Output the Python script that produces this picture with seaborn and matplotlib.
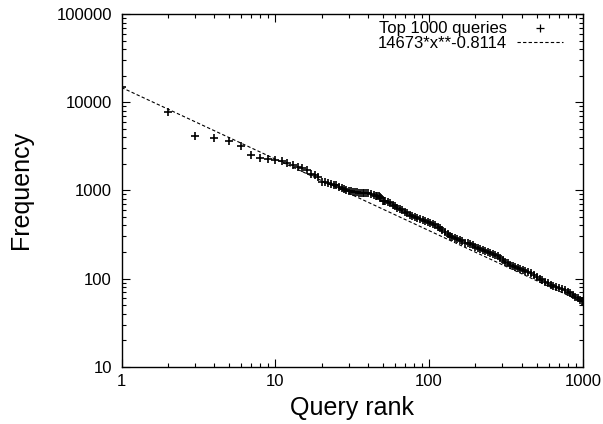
import numpy as np
import pandas as pd
import matplotlib
matplotlib.use('Agg')
import matplotlib.pyplot as plt
import seaborn as sb

# query rank / frequency
ranks = [1, 2, 3, 4, 5, 6, 7, 8, 9, 10,
         11, 12, 13, 14, 15, 16, 17, 18, 19, 20,
         21, 22, 23, 24, 25, 26, 27, 28, 29, 30,
         31, 32, 33, 34, 35, 36, 37, 38, 39, 40,
         42, 44, 45, 46, 47, 48, 49, 50, 51, 52,
         54, 56, 58, 60, 62, 65, 67, 70, 72, 75,
         78, 81, 84, 88, 91, 94, 98, 102, 106, 110,
         114, 118, 122, 127, 132, 137, 142, 148, 153, 159,
         165, 172, 178, 185, 192, 200, 207, 215, 223, 232,
         241, 250, 259, 269, 279, 290, 301, 313, 325, 337,
         350, 363, 377, 391, 406, 422, 441, 462, 483, 505,
         524, 544, 569, 595, 618, 642, 671, 702, 734, 768,
         797, 828, 859, 892, 926, 962, 981, 1000]
freqs = [14900, 7790, 4130, 3890, 3650, 3180, 2490, 2310, 2240, 2210,
         2170, 2055, 1945, 1860, 1775, 1700, 1530, 1480, 1400, 1250,
         1230, 1200, 1170, 1150, 1140, 1100, 1070, 1040, 1010, 990,
         975, 965, 957, 950, 945, 940, 935, 930, 927, 925,
         905, 885, 873, 865, 855, 846, 830, 756, 759, 762,
         740, 718, 690, 664, 639, 614, 593, 572, 552, 532,
         517, 502, 490, 479, 465, 452, 440, 428, 416, 404,
         389, 374, 356, 339, 322, 307, 296, 286, 280, 273,
         264, 256, 251, 246, 238, 231, 223, 216, 210, 205,
         200, 195, 190, 185, 178, 171, 163, 156, 150, 144,
         140, 136, 133, 130, 126, 123, 119, 115, 109, 104,
         100, 96, 92, 88, 85, 83, 81, 79, 76, 74,
         71, 68, 65, 62, 60, 57, 56, 55]

# power-law fit shown in the legend
fit_a = 14673
fit_b = -0.8114
fit_x = np.array([1, 1000])
fit_y = fit_a * fit_x ** fit_b

data = pd.DataFrame({'rank': ranks, 'freq': freqs})
fit = pd.DataFrame({'rank': fit_x, 'freq': fit_y})

sb.set_style('ticks')
plt.rcParams['font.family'] = ['Liberation Sans', 'DejaVu Sans']
plt.rcParams['text.color'] = 'black'
plt.rcParams['axes.labelcolor'] = 'black'
plt.rcParams['xtick.color'] = 'black'
plt.rcParams['ytick.color'] = 'black'

fig = plt.figure(figsize=(6.03, 4.24), dpi=100)
ax = fig.add_axes([0.2015, 0.135, 0.765, 0.832])

sb.scatterplot(data=data, x='rank', y='freq', marker='+', color='black',
               s=36, linewidth=1.2, ax=ax, label='Top 1000 queries', zorder=3)
sb.lineplot(data=fit, x='rank', y='freq', color='black', linewidth=0.8,
            dashes=False, ax=ax, label='14673*x**-0.8114')
ax.lines[-1].set_linestyle((0, (3, 2)))

ax.set_xscale('log')
ax.set_yscale('log')
ax.set_xlim(1, 1000)
ax.set_ylim(10, 100000)
ax.set_xticks([1, 10, 100, 1000], ['1', '10', '100', '1000'])
ax.set_yticks([10, 100, 1000, 10000, 100000], ['10', '100', '1000', '10000', '100000'])
ax.tick_params(which='both', direction='in', top=True, right=True, color='black')
ax.tick_params(which='major', length=6, width=0.8, labelsize=12, pad=5)
ax.tick_params(which='minor', length=3, width=0.8)
ax.tick_params(axis='y', pad=7)
for s in ax.spines.values():
    s.set_linewidth(1)
    s.set_color('black')

ax.set_xlabel('Query rank', fontsize=18, labelpad=5)
ax.set_ylabel('Frequency', fontsize=18, labelpad=17)

leg = ax.legend(loc='upper right', frameon=False, markerfirst=False, fontsize=12,
                handlelength=2.8, handletextpad=0.6, borderaxespad=0.3,
                labelspacing=0.0, bbox_to_anchor=(0.983, 1.014))
leg.legend_handles[0].set_sizes([30])
leg.legend_handles[0].set_linewidth(0.9)

plt.savefig('out.png', dpi=100)
